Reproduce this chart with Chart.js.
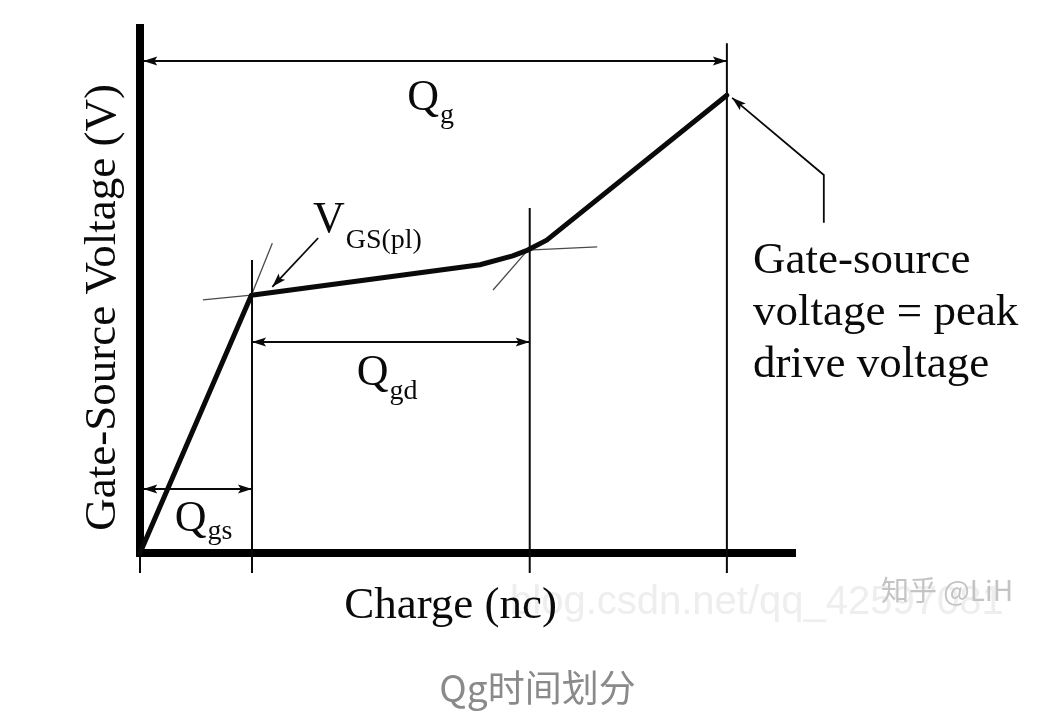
<!DOCTYPE html>
<html><head><meta charset="utf-8">
<script src="https://cdn.jsdelivr.net/npm/chart.js@4.4.0/dist/chart.umd.min.js"></script>
<style>html,body{margin:0;padding:0;background:#fff;}canvas{display:block;}</style>
</head><body>
<canvas id="c" width="1051" height="726"></canvas>
<script>
// ---- gate charge curve (charge units, volts; schematic) ----
const chargeNc    = [0, 1.70, 5.19, 5.69, 5.92, 6.21, 8.96];
const gateVoltage = [0, 4.91, 5.49, 5.66, 5.77, 5.96, 8.72];

// ---- phase boundaries: Qgs end, Qgd end, Qg end ----
const boundaryCharge = [0, 1.71, 5.95, 8.96];
const boundaryTop    = [0, 5.58, 6.57, 9.71];
const tickBottom = -0.38;

// ---- tangent construction lines [x1,y1,x2,y2] ----
const tangentX1 = [0.96, 1.70, 5.39, 5.92];
const tangentY1 = [4.82, 4.91, 5.01, 5.77];
const tangentX2 = [1.70, 2.02, 5.92, 6.98];
const tangentY2 = [4.91, 5.90, 5.77, 5.83];

// ---- dimension arrows: Qg, Qgd, Qgs ----
const dimNames = ['Qg', 'Qgd', 'Qgs'];
const dimFrom  = [0.05, 1.71, 0.05];
const dimTo    = [8.96, 5.95, 1.71];
const dimLevel = [9.37, 4.02, 1.22];

// ---- pointer arrows ----
const plPointerX = [2.72, 2.02];
const plPointerY = [6.00, 5.07];
const peakPointerX = [10.44, 10.44, 9.04];
const peakPointerY = [6.29, 7.20, 8.67];

// ---- text labels ----
const labelMain = ['Q', 'Q', 'Q', 'V'];
const labelSub  = ['g', 'gd', 'gs', 'GS(pl)'];
const labelX    = [4.08, 3.31, 0.53, 2.64];
const labelY    = [8.44, 3.20, 0.42, 6.11];
const labelSubDrop = [13, 14, 8, 16];
const noteLines = ['Gate-source', 'voltage = peak', 'drive voltage'];
const noteX = 9.36;
const noteY = [5.33, 4.34, 3.35];

const xTitle = 'Charge (nc)';
const yTitle = 'Gate-Source Voltage (V)';
const caption = 'Qg时间划分';

const INK = '#0a0a0a';
const SERIF = '"Liberation Serif", "Times New Roman", serif';

const pts = (xs, ys) => xs.map((x, i) => ({x, y: ys[i]}));
const datasets = [];
datasets.push({data: pts(chargeNc, gateVoltage), borderColor: INK, borderWidth: 5, borderJoinStyle: 'round', borderCapStyle: 'round', clip: false});
boundaryCharge.forEach((c, i) => {
  datasets.push({data: [{x: c, y: boundaryTop[i]}, {x: c, y: tickBottom}], borderColor: INK, borderWidth: 2, clip: false});
});
tangentX1.forEach((x, i) => {
  datasets.push({data: [{x, y: tangentY1[i]}, {x: tangentX2[i], y: tangentY2[i]}], borderColor: '#4a4a4a', borderWidth: 1.3, clip: false});
});
dimNames.forEach((n, i) => {
  datasets.push({data: [{x: dimFrom[i], y: dimLevel[i]}, {x: dimTo[i], y: dimLevel[i]}], borderColor: INK, borderWidth: 2, clip: false, arrowEnds: ['start', 'end']});
});
datasets.push({data: pts(plPointerX, plPointerY), borderColor: INK, borderWidth: 1.8, clip: false, arrowEnds: ['end']});
datasets.push({data: pts(peakPointerX, peakPointerY), borderColor: INK, borderWidth: 1.8, clip: false, arrowEnds: ['end']});
datasets.forEach(d => { d.pointRadius = 0; d.tension = 0; d.fill = false; });

function head(ctx, tip, from, len, half) {
  const a = Math.atan2(tip.y - from.y, tip.x - from.x);
  ctx.save();
  ctx.translate(tip.x, tip.y); ctx.rotate(a);
  ctx.beginPath(); ctx.moveTo(0, 0); ctx.lineTo(-len, -half); ctx.lineTo(-len * 0.8, 0); ctx.lineTo(-len, half); ctx.closePath();
  ctx.fillStyle = INK; ctx.fill();
  ctx.restore();
}

const decor = {
  id: 'decor',
  beforeDraw(chart) {
    const ctx = chart.ctx;
    ctx.save();
    ctx.textBaseline = 'middle'; ctx.textAlign = 'left';
    ctx.font = '40px "Liberation Sans", Arial, sans-serif';
    ctx.fillStyle = '#eeeeee';
    ctx.fillText('blog.csdn.net/qq_42597081', 510, 603);
    ctx.font = '28px "Noto Sans CJK SC", sans-serif';
    ctx.fillStyle = '#c4c4c4';
    ctx.fillText('知乎 @LiH', 881, 590);
    ctx.restore();
  },
  afterDatasetsDraw(chart) {
    const ctx = chart.ctx;
    chart.data.datasets.forEach((ds, i) => {
      if (!ds.arrowEnds) return;
      const p = chart.getDatasetMeta(i).data;
      ds.arrowEnds.forEach(e => {
        if (e === 'start') head(ctx, p[0], p[1], 14, 4.5);
        else head(ctx, p[p.length - 1], p[p.length - 2], 14, 4.5);
      });
    });
    const sx = chart.scales.x, sy = chart.scales.y;
    ctx.save();
    ctx.fillStyle = INK; ctx.textBaseline = 'alphabetic'; ctx.textAlign = 'left';
    labelMain.forEach((m, i) => {
      const px = sx.getPixelForValue(labelX[i]), py = sy.getPixelForValue(labelY[i]);
      ctx.font = '44px ' + SERIF;
      ctx.fillText(m, px, py);
      const w = ctx.measureText(m).width;
      ctx.font = '28px ' + SERIF;
      ctx.fillText(labelSub[i], px + w + 1, py + labelSubDrop[i]);
    });
    ctx.font = '45px ' + SERIF;
    noteLines.forEach((t, i) => {
      ctx.fillText(t, sx.getPixelForValue(noteX), sy.getPixelForValue(noteY[i]));
    });
    ctx.restore();
  }
};

new Chart(document.getElementById('c'), {
  type: 'line',
  data: {datasets},
  plugins: [decor],
  options: {
    responsive: false, animation: false, devicePixelRatio: 1,
    layout: {padding: {left: 24, right: 0, top: 28, bottom: 0}},
    plugins: {
      legend: {display: false}, tooltip: {enabled: false},
      title: {display: true, position: 'bottom', text: caption, color: '#8a8a8a',
        font: {family: '"Noto Sans CJK SC", sans-serif', size: 37, weight: 'normal', lineHeight: 1.2},
        padding: {top: 8, bottom: 15.8}}
    },
    scales: {
      x: {type: 'linear', min: 0, max: 10,
        ticks: {display: false}, grid: {display: false, drawTicks: false},
        border: {display: true, color: '#000', width: 8},
        title: {display: true, text: xTitle + '   ', color: INK,
          font: {family: SERIF, size: 45, lineHeight: 1.2}, padding: {top: 26, bottom: 24.8}}},
      y: {type: 'linear', min: 0, max: 10,
        ticks: {display: false}, grid: {display: false, drawTicks: false},
        border: {display: true, color: '#000', width: 8},
        title: {display: true, text: yTitle + '   ', color: INK,
          font: {family: SERIF, size: 45, lineHeight: 1.2}, padding: {top: 52, bottom: 10}}},
      y2: {position: 'right', display: true, min: 0, max: 1,
        ticks: {display: false}, grid: {display: false, drawTicks: false}, border: {display: false},
        afterFit(s) { s.width = 256; }}
    }
  }
});
</script>
</body></html>
